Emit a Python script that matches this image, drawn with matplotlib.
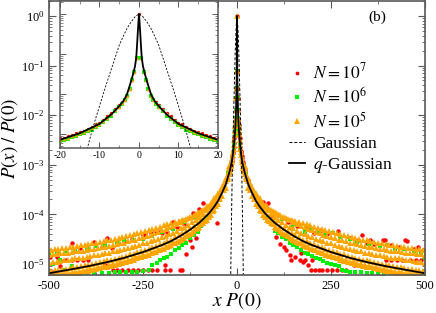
import numpy as np
import matplotlib
matplotlib.use('Agg')
import matplotlib.pyplot as plt
from matplotlib.ticker import LogLocator, MultipleLocator, NullFormatter

plt.rcParams['font.family'] = 'serif'
plt.rcParams['font.serif'] = ['Liberation Serif']
plt.rcParams['mathtext.fontset'] = 'stix'

# ---- data (positive side, mirrored where symmetric) ----
# q-Gaussian fit
qg_x = [0, 0.15, 0.3, 0.5, 0.7, 1.0, 1.4, 2, 2.5, 3.1, 4, 5, 7, 10, 15, 20, 30, 40, 50, 60,
        75, 100, 125, 150, 175, 200, 250, 300, 350, 400, 450, 500]
qg_y = [1, 0.6, 0.35, 0.16, 0.08, 0.05, 0.034, 0.021, 0.0145, 0.0095, 0.0066, 0.005, 0.0031,
        0.0018, 0.00105, 0.00072, 4.0e-4, 2.7e-4, 1.9e-4, 1.45e-4, 1.04e-4, 6.8e-5, 4.9e-5,
        3.7e-5, 2.9e-5, 2.4e-5, 1.74e-5, 1.33e-5, 1.07e-5, 8.9e-6, 7.6e-6, 6.5e-6]

# Gaussian
ga_x = [0, 1, 2, 3, 4, 5, 6, 7, 8, 9, 10, 11, 12, 13, 14, 15, 16, 17]
ga_y = [1, 0.85, 0.63, 0.44, 0.275, 0.166, 0.083, 0.042, 0.021, 0.0105, 5.0e-3, 2.4e-3,
        1.12e-3, 4.7e-4, 1.7e-4, 5.6e-5, 1.6e-5, 4e-6]

# central region points (|x| <= 20), mirrored
core_x = [0.6, 1.2, 1.8, 2.4, 3.0, 3.6, 4.2, 5, 6, 7, 8, 9, 10, 11, 12, 13, 14, 15, 16, 17, 18, 19, 20]
core_n5 = [0.078, 0.036, 0.022, 0.013, 0.0088, 0.0072, 0.006, 0.0048, 0.0039, 0.0031, 0.0025,
           0.0021, 0.0018, 0.0016, 0.00138, 0.00124, 0.00112, 0.00104, 0.00095, 0.00088,
           0.00082, 0.00076, 0.00071]
core_n7 = [0.078, 0.036, 0.022, 0.013, 0.0088, 0.0075, 0.0063, 0.0052, 0.0042, 0.0034, 0.0028,
           0.0023, 0.0019, 0.00175, 0.0015, 0.00135, 0.0012, 0.00112, 0.00104, 0.00095,
           0.00088, 0.00082, 0.00078]
core_n6 = [0.078, 0.036, 0.022, 0.013, 0.0088, 0.007, 0.0058, 0.0047, 0.0038, 0.0029, 0.0024,
           0.002, 0.00172, 0.0015, 0.0013, 0.00118, 0.00107, 0.00098, 0.0009, 0.00083,
           0.00077, 0.00073, 0.00068]

# N = 10^5 tail band (rows), mirrored
n5_x = [20, 30, 40, 50, 60, 70, 80, 90, 100, 110, 120, 130, 140, 150, 160, 170, 180, 190, 200,
        210, 220, 230, 240, 250, 260, 270, 280, 290, 300, 310, 320, 330, 340, 350, 360, 370,
        380, 390, 400, 410, 420, 430, 440, 450, 460, 470, 480, 490, 500]
n5_lo = [6.4e-4, 3.4e-4, 2.3e-4, 1.6e-4, 1.2e-4, 9.8e-5, 7.7e-5, 6.8e-5, 5.6e-5, 5.0e-5, 4.3e-5,
         3.9e-5, 3.4e-5, 3.1e-5, 2.8e-5, 2.6e-5, 2.3e-5, 2.2e-5, 2.0e-5, 1.9e-5, 1.75e-5, 1.7e-5,
         1.55e-5, 1.5e-5, 1.4e-5, 1.3e-5, 1.25e-5, 1.2e-5, 1.1e-5, 1.08e-5, 1.02e-5, 9.9e-6,
         9.4e-6, 9.1e-6, 8.7e-6, 8.5e-6, 8.0e-6, 7.8e-6, 7.5e-6, 7.3e-6, 7.0e-6, 6.8e-6, 6.6e-6,
         6.4e-6, 6.2e-6, 6.1e-6, 6.2e-6, 6.1e-6, 6.1e-6]
n5_mid = [8.6e-4, 4.8e-4, 3.2e-4, 2.3e-4, 1.8e-4, 1.4e-4, 1.2e-4, 1.0e-4, 8.8e-5, 7.8e-5, 7.0e-5,
          6.2e-5, 5.6e-5, 5.2e-5, 4.7e-5, 4.3e-5, 4.0e-5, 3.7e-5, 3.5e-5, 3.2e-5, 3.1e-5, 2.9e-5,
          2.7e-5, 2.6e-5, 2.4e-5, 2.3e-5, 2.2e-5, 2.1e-5, 2.0e-5, 1.9e-5, 1.85e-5, 1.8e-5,
          1.7e-5, 1.65e-5, 1.6e-5, 1.55e-5, 1.5e-5, 1.45e-5, 1.4e-5, 1.35e-5, 1.3e-5, 1.3e-5,
          1.25e-5, 1.2e-5, 1.2e-5, 1.15e-5, 1.1e-5, 1.1e-5, 1.05e-5]
n5_hi = [9.5e-4, 5.4e-4, 3.6e-4, 2.7e-4, 2.1e-4, 1.7e-4, 1.45e-4, 1.25e-4, 1.1e-4, 1.0e-4, 9.0e-5,
         8.5e-5, 7.6e-5, 7.0e-5, 6.4e-5, 5.8e-5, 5.5e-5, 5.0e-5, 4.8e-5, 4.4e-5, 4.2e-5, 3.9e-5,
         3.7e-5, 3.5e-5, 3.3e-5, 3.1e-5, 3.0e-5, 2.9e-5, 2.7e-5, 2.6e-5, 2.5e-5, 2.4e-5, 2.3e-5,
         2.2e-5, 2.2e-5, 2.1e-5, 2.0e-5, 2.0e-5, 1.9e-5, 1.85e-5, 1.8e-5, 1.8e-5, 1.75e-5,
         1.7e-5, 1.7e-5, 1.65e-5, 1.6e-5, 1.6e-5, 1.55e-5]
# offset rows (between the grid above)
n5_x2 = [25, 35, 45, 55, 65, 75, 85, 95, 105, 115, 125, 135, 145, 155, 165, 175, 185, 195, 205,
         215, 225, 235, 245, 255, 265, 275, 285, 295, 305, 315, 325, 335, 345, 355, 365, 375,
         385, 395, 405, 415, 425, 435, 445, 455, 465, 475, 485, 495]
n5_cur = [5.8e-4, 3.6e-4, 2.4e-4, 1.8e-4, 1.4e-4, 1.12e-4, 9.3e-5, 7.9e-5, 6.8e-5, 5.9e-5,
          5.3e-5, 4.7e-5, 4.2e-5, 3.8e-5, 3.45e-5, 3.1e-5, 2.9e-5, 2.7e-5, 2.5e-5, 2.3e-5,
          2.2e-5, 2.05e-5, 1.95e-5, 1.85e-5, 1.75e-5, 1.62e-5, 1.57e-5, 1.48e-5, 1.4e-5,
          1.35e-5, 1.29e-5, 1.23e-5, 1.19e-5, 1.13e-5, 1.1e-5, 1.06e-5, 1.02e-5, 9.7e-6, 9.5e-6,
          9.2e-6, 8.9e-6, 8.5e-6, 8.3e-6, 8.1e-6, 7.9e-6, 7.7e-6, 7.5e-6, 7.2e-6]
n5_top = [6.5e-4, 4.2e-4, 2.9e-4, 2.2e-4, 1.8e-4, 1.5e-4, 1.3e-4, 1.15e-4, 1.05e-4, 9.5e-5,
          8.8e-5, 8.2e-5, 7.6e-5, 7.4e-5, 7.0e-5, 6.6e-5, 6.3e-5, 6.0e-5, 5.6e-5, 5.3e-5, 5.1e-5,
          4.8e-5, 4.6e-5, 4.4e-5, 4.2e-5, 4.0e-5, 3.9e-5, 3.7e-5, 3.5e-5, 3.4e-5, 3.2e-5, 3.1e-5,
          3.0e-5, 2.9e-5, 2.8e-5, 2.7e-5, 2.6e-5, 2.5e-5, 2.4e-5, 2.4e-5, 2.3e-5, 2.2e-5, 2.2e-5,
          2.1e-5, 2.1e-5, 2.0e-5, 2.0e-5, 1.9e-5]
n5_low2 = [5.2e-4, 3.1e-4, 2.0e-4, 1.5e-4, 1.15e-4, 9.0e-5, 7.5e-5, 6.3e-5, 5.4e-5, 4.7e-5,
           4.1e-5, 3.6e-5, 3.2e-5, 2.9e-5, 2.6e-5, 2.4e-5, 2.2e-5, 2.05e-5, 1.9e-5, 1.75e-5,
           1.65e-5, 1.55e-5, 1.45e-5, 1.38e-5, 1.3e-5, 1.22e-5, 1.16e-5, 1.1e-5, 1.05e-5, 1.0e-5,
           9.6e-6, 9.2e-6, 8.8e-6, 8.5e-6, 8.2e-6, 7.9e-6, 7.6e-6, 7.3e-6, 7.1e-6, 6.9e-6,
           6.7e-6, 6.5e-6, 6.4e-6, 6.3e-6, 6.2e-6, 6.1e-6, 6.1e-6, 6.1e-6]

# N = 10^6 tails
n6_x = [25, 35, 45, 55, 65, 75, 85, 95, 100, 110, 120, 130, 140, 150, 160, 170, 180, 190, 200,
        210, 220, 230, 240, 250, 260, 270, 280, 290, 300, 315, 330, 345, 360, 375, 390, 410, 430,
        120, 150, 180, 200, 215, 235, 255, 275, 300, 320, 350, 380, 400, 420, 445, 470, 490, 500,
        -25, -35, -45, -55, -65, -75, -85, -95, -105, -115, -125, -135, -145, -155, -165, -175,
        -185, -195, -205, -213, -225, -235, -250, -265, -280, -295, -310, -325, -340, -360, -380,
        -400, -420, -110, -140, -170, -200, -225, -250, -275, -300, -320, -350, -375, -400, -430,
        -455, -480, -500, -470, -490, -440, -460]
n6_y = [6.5e-4, 3.5e-4, 2.2e-4, 1.5e-4, 1.15e-4, 8.5e-5, 7e-5, 6e-5, 4.6e-5, 4.2e-5, 3.5e-5,
        3.2e-5, 2.6e-5, 2.4e-5, 2.2e-5, 1.9e-5, 1.7e-5, 1.6e-5, 1.45e-5, 1.3e-5, 1.25e-5, 1.15e-5,
        1.05e-5, 1e-5, 9.5e-6, 9e-6, 7.5e-6, 7.2e-6, 7.0e-6, 7.0e-6, 6.8e-6, 6.6e-6, 6.6e-6,
        6.6e-6, 6.4e-6, 6.5e-6, 6.3e-6,
        8e-5, 6e-5, 4.5e-5, 5e-5, 4.2e-5, 3.8e-5, 4.3e-5, 3.5e-5, 3.2e-5, 2.8e-5, 2.5e-5, 2.3e-5,
        2.4e-5, 2.0e-5, 2.0e-5, 1.8e-5, 1.6e-5, 1.3e-5,
        6.8e-4, 3.6e-4, 2.3e-4, 1.6e-4, 1.1e-4, 8.8e-5, 7.2e-5, 5.8e-5, 4.5e-5, 3.8e-5, 3.3e-5,
        2.7e-5, 2.4e-5, 2.1e-5, 1.9e-5, 1.6e-5, 1.4e-5, 1.3e-5, 1.2e-5, 1.05e-5, 9.5e-6, 7.5e-6,
        7.2e-6, 7.0e-6, 7.0e-6, 6.8e-6, 6.8e-6, 6.9e-6, 6.7e-6, 6.6e-6, 6.5e-6, 6.6e-6, 6.4e-6,
        9e-5, 7e-5, 5e-5, 4.5e-5, 3.6e-5, 3.2e-5, 3.0e-5, 3.0e-5, 2.6e-5, 2.4e-5, 2.3e-5, 2.0e-5,
        1.9e-5, 1.8e-5, 1.7e-5, 1.5e-5, 1.2e-5, 1.0e-5, 9e-6, 7.5e-6]

# N = 10^7 tails
n7_x = [82, 69, 96, 136, 130, 197, 207, 217, 227, 240, 252, 265, 278, 290, 223, 268, 322, 393,
        447, 481, 170, 144, 332, 354, 389, 452, 167, 180, 200, 395, 410, 425, 440, 460, 475, 490,
        110, 120, 150, 160, 185, 205, 240, 300, 345, 365, 410, 430, 470, 495, 105, 115, 125, 140,
        155, 175, 190, 310, 340, 30, 45, 60,
        -479, -497, -470, -455, -440, -425, -410, -395, -417, -332, -346, -250, -210, -245, -230,
        -220, -200, -186, -191, -191, -330, -318, -305, -290, -277, -262, -250, -238, -225, -213,
        -146, -152, -178, -117, -170, -90, -125, -64, -53, -440, -380, -360, -300, -280, -160,
        -140, -100, -75, -40, -30, -470, -490, -350, -120, -110, -135]
n7_y = [1.7e-4, 1.8e-4, 9e-5, 7e-5, 1.9e-5, 7.6e-6, 7.6e-6, 7.6e-6, 7.6e-6, 7.6e-6, 7.6e-6,
        7.6e-6, 7.6e-6, 7.6e-6, 4.9e-5, 4.6e-5, 3e-5, 3.1e-5, 3e-5, 2.2e-5, 1.7e-5, 1.2e-5,
        3.8e-5, 3e-5, 3e-5, 2.9e-5, 1.2e-5, 1.2e-5, 1.2e-5, 1.2e-5, 1.2e-5, 1.2e-5, 1.2e-5,
        1.2e-5, 1.2e-5, 1.2e-5, 9.5e-5, 8.5e-5, 6.5e-5, 5.8e-5, 5.2e-5, 4.2e-5, 4.0e-5, 3.4e-5,
        2.6e-5, 2.5e-5, 2.4e-5, 2.2e-5, 2.0e-5, 1.9e-5, 3.5e-5, 2.5e-5, 2.2e-5, 1.5e-5, 1.4e-5,
        1.1e-5, 9.5e-6, 9.5e-6, 8.8e-6, 5.0e-4, 2.6e-4, 1.7e-4,
        1.4e-5, 1.4e-5, 1.2e-5, 1.2e-5, 1.2e-5, 1.2e-5, 1.2e-5, 1.2e-5, 2.1e-5, 2.1e-5, 3.3e-5,
        3.8e-5, 4.4e-5, 4.2e-5, 4.2e-5, 4.2e-5, 4.2e-5, 4.4e-5, 9.5e-6, 7.6e-6, 7.6e-6, 7.6e-6,
        7.6e-6, 7.6e-6, 7.6e-6, 7.6e-6, 7.6e-6, 7.6e-6, 7.6e-6, 7.6e-6, 7.6e-6, 7.6e-6, 7.6e-6,
        1.07e-4, 7e-5, 1.7e-4, 3e-5, 1.4e-4, 6.7e-5, 2.6e-5, 2.8e-5, 2.2e-5, 2.9e-5, 3.2e-5,
        5.5e-5, 6.5e-5, 1.3e-4, 1.5e-4, 3.2e-4, 5e-4, 9e-6, 7e-6, 1e-5, 2.2e-5, 3.3e-5, 1.6e-5]


def mirror(xs, ys):
    xs = np.asarray(xs, float)
    ys = np.asarray(ys, float)
    return np.concatenate([-xs[::-1], xs]), np.concatenate([ys[::-1], ys])


qx, qy = mirror(qg_x, qg_y)
gx, gy = mirror(ga_x, ga_y)
cx5, cy5 = mirror(core_x, core_n5)
cx6, cy6 = mirror(core_x, core_n6)
cx7, cy7 = mirror(core_x, core_n7)
bx, blo = mirror(n5_x, n5_lo)
_, bmid = mirror(n5_x, n5_mid)
_, bhi = mirror(n5_x, n5_hi)
bx2, bcur = mirror(n5_x2, n5_cur)
_, btop = mirror(n5_x2, n5_top)
_, blow2 = mirror(n5_x2, n5_low2)

red = '#ff0000'
green = '#00ee00'
orange = '#ffa500'
spine_c = '0.35'

fig = plt.figure(figsize=(4.36, 3.13), dpi=100)
ax = fig.add_axes([0.1124, 0.1214, 0.8624, 0.8754])

# main panel
ax.plot(n7_x, n7_y, 'o', color=red, ms=3.2, mew=0, label=r'$N = 10^7$')
ax.plot(np.concatenate([cx7, [0]]), np.concatenate([cy7, [1]]), 'o', color=red, ms=3.2, mew=0)
ax.plot(n6_x, n6_y, 's', color=green, ms=2.9, mew=0, label=r'$N = 10^6$')
ax.plot(cx6, cy6, 's', color=green, ms=2.9, mew=0)
ax.plot(np.concatenate([bx, bx, bx, bx2, bx2, bx2, cx5, [0]]),
        np.concatenate([blo, bmid, bhi, bcur, btop, blow2, cy5, [1]]),
        '^', color=orange, ms=4.6, mew=0, label=r'$N = 10^5$')
ax.plot(gx, gy, '--', color='black', lw=0.7, dashes=(3, 2), label='Gaussian')
ax.plot(qx, qy, '-', color='black', lw=1.3, label=r'$q$-Gaussian')

ax.set_yscale('log')
ax.set_xlim(-500, 500)
ax.set_ylim(6e-6, 2.0)
ax.set_xticks([-500, -250, 0, 250, 500])
ax.set_xticklabels(['-500', '-250', '0', '250', '500'])
ax.xaxis.set_minor_locator(MultipleLocator(125))
ax.yaxis.set_major_locator(LogLocator(base=10, numticks=10))
ax.yaxis.set_minor_locator(LogLocator(base=10, subs=np.arange(2, 10), numticks=10))
ax.yaxis.set_minor_formatter(NullFormatter())
ax.tick_params(which='both', direction='in', top=True, right=True, color=spine_c, labelsize=9)
ax.tick_params(which='major', length=5, width=0.8)
ax.tick_params(which='minor', length=2.5, width=0.6)
ax.tick_params(axis='y', pad=3)
for s in ax.spines.values():
    s.set_color(spine_c)
    s.set_linewidth(1.2)
ax.set_xlabel(r'$x\ P(0)$', fontsize=14, labelpad=-1)
ax.set_ylabel(r'$P(x)\ /\ P(0)$', fontsize=13.5)
ax.yaxis.set_label_coords(-0.078, 0.5)

leg = ax.legend(loc='upper left', bbox_to_anchor=(0.62, 0.80), frameon=False, fontsize=12.5,
                handlelength=0.9, handletextpad=0.5, labelspacing=0.25, borderaxespad=0,
                markerscale=0.85)

fig.text(377 / 436, 1 - 17 / 313, '(b)', ha='center', va='center', fontsize=11)

# inset
axi = fig.add_axes([0.1376, 0.5272, 0.3624, 0.4696])
axi.plot(np.concatenate([cx7, [0]]), np.concatenate([cy7, [1]]), 'o', color=red, ms=2.4, mew=0)
axi.plot(cx6, cy6, 's', color=green, ms=2.2, mew=0)
axi.plot(np.concatenate([cx5, [0]]), np.concatenate([cy5, [1]]), '^', color=orange, ms=2.6, mew=0)
axi.plot(gx, gy, '--', color='black', lw=0.6, dashes=(2.5, 1.8))
axi.plot(qx, qy, '-', color='black', lw=1.3)
axi.set_yscale('log')
axi.set_xlim(-20, 20)
axi.set_ylim(4.5e-4, 2.1)
axi.set_xticks([-20, -10, 0, 10, 20])
axi.set_xticklabels(['-20', '-10', '0', '10', '20'])
axi.xaxis.set_minor_locator(MultipleLocator(5))
axi.yaxis.set_major_locator(LogLocator(base=10, numticks=10))
axi.yaxis.set_minor_locator(LogLocator(base=10, subs=np.arange(2, 10), numticks=10))
axi.yaxis.set_minor_formatter(NullFormatter())
axi.tick_params(which='both', direction='in', top=True, right=True, color=spine_c,
                labelsize=7, labelleft=False, pad=2)
axi.tick_params(which='major', length=4, width=0.7)
axi.tick_params(which='minor', length=2, width=0.5)
for s in axi.spines.values():
    s.set_color(spine_c)
    s.set_linewidth(1.1)

fig.savefig('out.png', dpi=100)
